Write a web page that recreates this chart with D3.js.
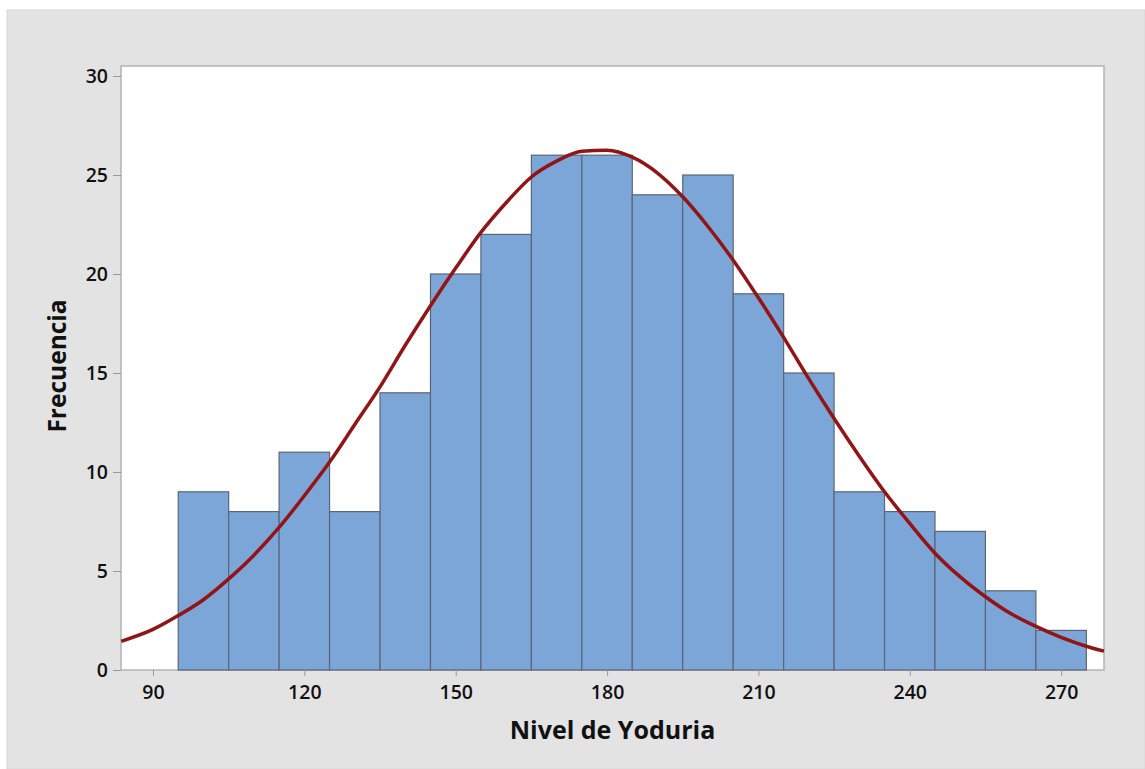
<!DOCTYPE html>
<html>
<head>
<meta charset="utf-8">
<script src="https://cdn.jsdelivr.net/npm/d3@7"></script>
<style>
  body { margin: 0; background: #fff; }
  text { font-family: "Open Sans", "DejaVu Sans", sans-serif; }
</style>
</head>
<body>
<svg id="chart" width="1145" height="769"></svg>
<script>
// bin midpoints (width 10) and counts
var binMids = [100, 110, 120, 130, 140, 150, 160, 170, 180, 190, 200, 210, 220, 230, 240, 250, 260, 270];
var counts = [9, 8, 11, 8, 14, 20, 22, 26, 26, 24, 25, 19, 15, 9, 8, 7, 4, 2];
var binWidth = 10;

// fitted curve
var fitX = [83.7, 90, 95, 100, 105, 110, 115, 120, 125, 130, 135, 140, 145, 150, 155, 160, 165, 170, 175, 180,
  185, 190, 195, 200, 205, 210, 215, 220, 225, 230, 235, 240, 245, 250, 255, 260, 265, 270, 275, 278.5];
var fitY = [1.45, 2.05, 2.75, 3.55, 4.6, 5.8, 7.2, 8.8, 10.5, 12.4, 14.3, 16.4, 18.4, 20.3, 22.1, 23.6, 24.9, 25.7, 26.2, 26.25,
  25.9, 25.1, 23.9, 22.4, 20.7, 18.8, 16.8, 14.7, 12.7, 10.8, 9.0, 7.4, 5.9, 4.7, 3.7, 2.85, 2.2, 1.65, 1.2, 0.95];

var xTicks = [90, 120, 150, 180, 210, 240, 270];
var yTicks = [0, 5, 10, 15, 20, 25, 30];

var svg = d3.select("#chart");
var W = 1145, H = 769;
var plot = { left: 121, top: 66, right: 1104, bottom: 670 };

// grey panel
svg.append("rect").attr("x", 7).attr("y", 10).attr("width", W - 7).attr("height", H - 10)
  .attr("fill", "#e3e3e3").attr("stroke", "#d6d6d6");

svg.append("rect")
  .attr("x", plot.left).attr("y", plot.top)
  .attr("width", plot.right - plot.left).attr("height", plot.bottom - plot.top)
  .attr("fill", "#fff").attr("stroke", "#b4b4b4").attr("stroke-width", 1.5);

var x = d3.scaleLinear().domain([83.66, 278.5]).range([plot.left, plot.right]);
var y = d3.scaleLinear().domain([0, 30]).range([plot.bottom, 76]);

// bars
svg.append("g").selectAll("rect")
  .data(binMids.map(function (m, i) { return { m: m, c: counts[i] }; }))
  .enter().append("rect")
  .attr("x", function (d) { return x(d.m - binWidth / 2); })
  .attr("width", function (d) { return x(d.m + binWidth / 2) - x(d.m - binWidth / 2); })
  .attr("y", function (d) { return y(d.c); })
  .attr("height", function (d) { return y(0) - y(d.c); })
  .attr("fill", "#7ca6d8")
  .attr("stroke", "#5b6677")
  .attr("stroke-width", 1.2);

// fit line
var line = d3.line()
  .x(function (d) { return x(d[0]); })
  .y(function (d) { return y(d[1]); })
  .curve(d3.curveMonotoneX);

svg.append("path")
  .datum(fitX.map(function (v, i) { return [v, fitY[i]]; }))
  .attr("d", line)
  .attr("fill", "none")
  .attr("stroke", "#931414")
  .attr("stroke-width", 3.5);

// axes
var yAxis = svg.append("g")
  .attr("transform", "translate(" + plot.left + ",0)")
  .call(d3.axisLeft(y).tickValues(yTicks).tickSize(8).tickPadding(5));
var xAxis = svg.append("g")
  .attr("transform", "translate(0," + plot.bottom + ")")
  .call(d3.axisBottom(x).tickValues(xTicks).tickSize(6).tickPadding(9));

[yAxis, xAxis].forEach(function (a) {
  a.select(".domain").remove();
  a.selectAll(".tick line").attr("stroke", "#9a9a9a");
  a.selectAll(".tick text")
    .attr("fill", "#111")
    .style("font-size", "19.5px")
    .style("font-weight", "600");
});

svg.append("text")
  .attr("x", (plot.left + plot.right) / 2)
  .attr("y", 739)
  .attr("text-anchor", "middle")
  .style("font-size", "25px")
  .style("font-weight", "700")
  .attr("fill", "#111")
  .text("Nivel de Yoduria");

svg.append("text")
  .attr("transform", "translate(66," + 366 + ") rotate(-90)")
  .attr("text-anchor", "middle")
  .style("font-size", "24.5px")
  .style("font-weight", "700")
  .attr("fill", "#111")
  .text("Frecuencia");
</script>
</body>
</html>
